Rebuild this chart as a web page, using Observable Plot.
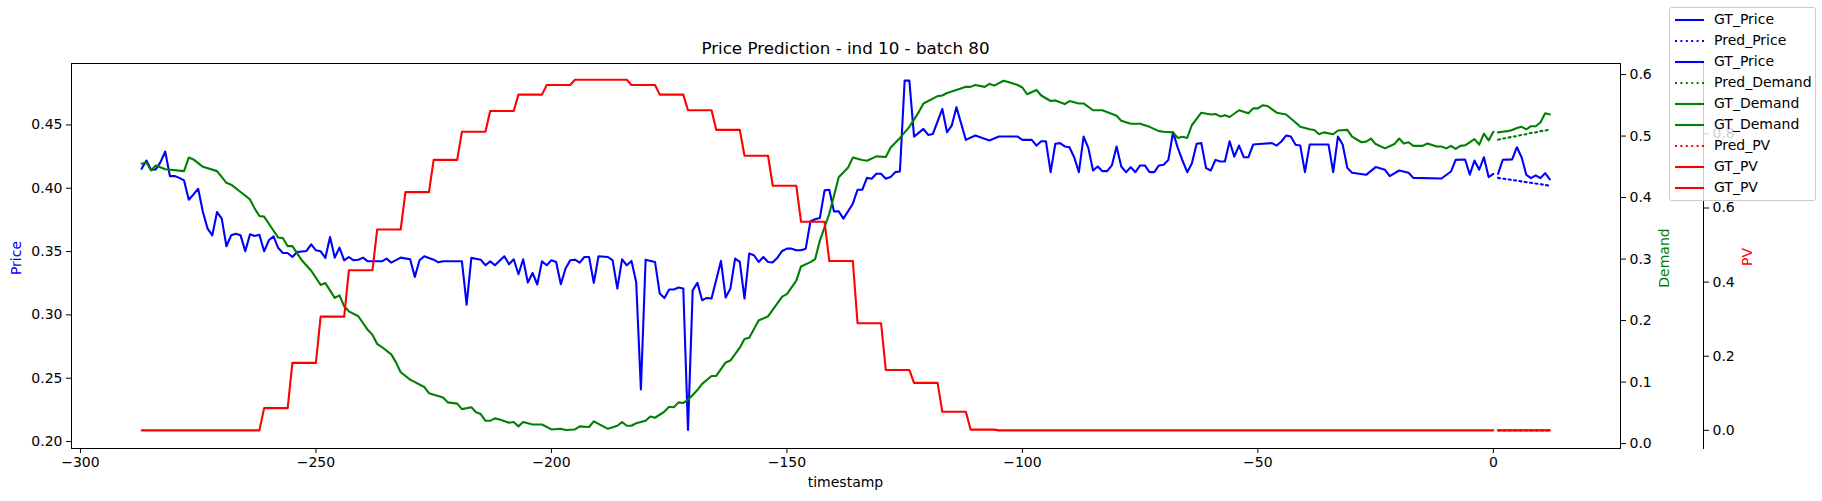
<!DOCTYPE html>
<html><head><meta charset="utf-8">
<script src="https://cdn.jsdelivr.net/npm/d3@7"></script>
<script src="https://cdn.jsdelivr.net/npm/@observablehq/plot@0.6"></script>
<style>
body{margin:0;background:#fff;font-family:"DejaVu Sans",sans-serif;}
#wrap{position:relative;width:1822px;height:501px;}
#wrap svg{position:absolute;left:0;top:0;}
.lbl{position:absolute;font-size:14px;white-space:nowrap;transform:translate(-50%,-50%);}
.rot{transform:translate(-50%,-50%) rotate(-90deg);}
#legend{position:absolute;left:1669px;top:7px;width:145px;height:192px;background:rgba(255,255,255,0.8);border:1px solid #ccc;border-radius:3px;font-size:14px;}
#legend div{position:absolute;left:44px;}
#legend svg{position:absolute;left:4px;}
</style></head><body>
<div id="wrap"></div>
<script>
// ---- data ----
const priceHistT=[-287,-286,-285,-284,-283,-282,-281,-280,-279,-278,-277,-276,-275,-274,-273,-272,-271,-270,-269,-268,-267,-266,-265,-264,-263,-262,-261,-260,-259,-258,-257,-256,-255,-254,-252,-251,-250,-249,-248,-247,-246,-245,-244,-243,-242,-241,-240,-239,-236,-235,-234,-232,-230,-229,-228,-227,-225,-224,-223,-219,-218,-217,-215,-214,-213,
-212,-210,-209,-208,-207,-206,-205,-204,-203,-202,-201,-200,-199,-198,-197,-196,-195,-194,-193,-192,-191,-190,-188,-187,-186,-185,-184,-183,-182,-181,-180,-178,-177,-176,-175,-174,-173,-172,-171,-170,-169,-168,-167,-166,-164,-163,-162,-161,-160,-159,-158,-157,-156,-155,-154,-153,-152,-151,-150,-149,-148,-147,-146,-145,-144,-143,-142,-141,
-140,-139,-138,-136,-135,-134,-133,-132,-131,-130,-129,-128,-127,-126,-125,-124,-123,-121,-120,-119,-117,-116,-115,-114,-112,-110,-107,-105,-101,-100,-98,-97,-96,-95,-94,-93,-92,-91,-90,-89,-88,-87,-86,-85,-84,-83,-82,-81,-80,-79,-78,-77,-76,-75,-74,-73,-72,-71,-70,-69,-68,
-67,-66,-65,-64,-63,-62,-61,-60,-59,-58,-57,-56,-55,-54,-53,-52,-51,-49,-47,-46,-45,-44,-43,-42,-41,-40,-39,-37,-35,-34,-33,-32,-31,-30,-27,-25,-23,-22,-20,-18,-17,-11,-9,-8,-6,-5,-4,-3,-2,-1,0];
const priceHistV=[.4154,.4219,.4146,.4149,.4206,.4290,.4096,.4096,.4082,.4062,.3909,.3951,.3996,.3812,.3681,.3628,.3812,.3760,.3542,.3628,.3641,.3628,.3502,.3636,.3623,.3633,.3502,.3589,.3620,.3528,.3489,.3489,.3457,.3496,.3505,.3557,.3510,.3502,.3450,.3615,.3452,.3531,.3431,.3457,.3431,.3436,.3452,.3423,.3423,.3444,.3413,.3452,.3439,.3300,.3431,.3463,.3436,.3415,.3423,.3423,.3081,.3450,.3436,.3392,.3423,
.3392,.3463,.3400,.3439,.3321,.3439,.3255,.3331,.3240,.3423,.3392,.3431,.3418,.3242,.3366,.3431,.3436,.3413,.3457,.3457,.3253,.3463,.3457,.3431,.3208,.3439,.3392,.3426,.3260,.2412,.3436,.3418,.3169,.3134,.3200,.3200,.3216,.3208,.2092,.3195,.3253,.3116,.3134,.3129,.3426,.3137,.3208,.3444,.3418,.3129,.3484,.3471,.3418,.3457,.3418,.3415,.3452,.3505,.3523,.3523,.3510,.3510,.3523,.3739,.3755,.3765,.3983,.3988,
.3817,.3817,.3760,.3878,.3988,.3988,.4082,.4075,.4114,.4114,.4075,.4088,.4127,.4132,.4850,.4850,.4408,.4469,.4421,.4429,.4626,.4442,.4495,.4640,.4382,.4416,.4377,.4408,.4408,.4382,.4382,.4337,.4371,.4371,.4127,.4351,.4356,.4330,.4324,.4245,.4127,.4408,.4319,.4140,.4172,.4135,.4135,.4180,.4330,.4172,.4127,.4167,.4127,.4180,.4180,.4127,.4127,.4180,.4185,.4224,.4442,
.4319,.4219,.4127,.4198,.4351,.4356,.4159,.4140,.4224,.4211,.4211,.4371,.4250,.4337,.4245,.4245,.4345,.4351,.4356,.4337,.4369,.4416,.4408,.4343,.4337,.4127,.4345,.4345,.4345,.4127,.4408,.4345,.4161,.4122,.4106,.4167,.4146,.4096,.4140,.4122,.4082,.4077,.4132,.4224,.4227,.4108,.4219,.4146,.4245,.4088,.4114];
const futureT=[1,2,3,4,5,6,7,8,9,10,11,12];
const priceFutV=[.4114,.4225,.4226,.4227,.4324,.4245,.4106,.4080,.4101,.4080,.4119,.4070];
const pricePredV=[.4082,.4076,.4071,.4065,.4060,.4054,.4048,.4043,.4037,.4032,.4026,.4020];
const demandHistT=[-287,-286,-285,-284,-282,-278,-277,-276,-274,-271,-269,-268,-266,-264,-263,-262,-261,-259,-258,-257,-256,-255,-253,-251,-249,-248,-246,-245,-244,-243,-241,-239,-238,-237,-236,-234,-233,-232,-230,-227,-226,-223,-222,-220,-219,-217,-216,-215,-214,
-213,-212,-211,-209,-208,-207,-206,-204,-202,-200,-198,-197,-195,-194,-192,-191,-189,-188,-186,-185,-184,-183,-182,-180,-179,-178,-176,-175,-174,-173,-172,-171,-169,-168,-166,-165,-163,-162,-160,-159,-158,-156,-154,-151,-150,-148,-147,-145,-144,-143,-141,
-140,-139,-137,-136,-134,-133,-131,-129,-128,-126,-124,-122,-121,-118,-117,-116,-114,-112,-111,-110,-108,-107,-106,-104,-103,-101,-100,-99,-97,-96,-94,-93,-91,-90,-88,-87,-85,-83,-80,-79,-77,-75,-73,-71,-70,-68,-67,
-66,-65,-64,-62,-60,-59,-58,-57,-56,-54,-52,-51,-50,-49,-48,-46,-44,-42,-41,-39,-38,-37,-36,-34,-33,-31,-30,-28,-27,-26,-25,-23,-21,-20,-19,-18,-17,-15,-14,-12,-11,-10,-9,-8,-7,-6,-4,-3,-2,-1,0];
const demandHistV=[.455,.457,.444,.452,.446,.443,.465,.462,.450,.443,.424,.421,.409,.397,.382,.370,.369,.346,.335,.334,.321,.321,.298,.281,.258,.261,.237,.241,.223,.215,.207,.185,.177,.162,.157,.145,.132,.116,.104,.092,.082,.075,.067,.065,.056,.059,.051,.048,.037,
.037,.041,.039,.034,.035,.028,.035,.031,.031,.023,.024,.022,.023,.028,.027,.036,.028,.024,.029,.035,.029,.029,.033,.037,.044,.042,.052,.060,.059,.067,.066,.071,.087,.097,.110,.110,.132,.135,.156,.170,.172,.200,.207,.239,.243,.265,.288,.295,.300,.330,.374,
.403,.433,.449,.465,.461,.460,.467,.466,.481,.497,.515,.539,.553,.565,.566,.570,.575,.580,.580,.583,.580,.585,.582,.590,.588,.583,.579,.568,.575,.566,.557,.558,.552,.557,.553,.553,.542,.542,.533,.525,.520,.520,.515,.508,.507,.506,.497,
.499,.497,.518,.538,.535,.536,.532,.534,.531,.542,.537,.545,.545,.550,.549,.538,.535,.522,.515,.511,.510,.503,.506,.503,.509,.510,.499,.490,.491,.496,.487,.480,.487,.496,.488,.490,.484,.484,.488,.483,.483,.480,.484,.479,.484,.485,.495,.486,.504,.493,.507];
const demandFutV=[.506,.507,.508,.510,.513,.515,.511,.516,.516,.522,.537,.535];
const demandPredV=[.494,.496,.497,.499,.500,.502,.503,.505,.506,.508,.509,.511];
const pvStepT=[-287,-261,-255,-249,-243,-237,-231,-225,-219,-213,-207,-201,-195,-189,-183,-177,-171,-165,-159,-153,-147,-141,-135,-129,-123,-117,-111,-105];
const pvStepV=[0,.060,.182,.307,.432,.542,.643,.730,.806,.862,.906,.932,.946,.946,.932,.906,.864,.811,.741,.660,.563,.457,.289,.163,.128,.050,.002,0];
const pvFutV=[0,0,0,0,0,0,0,0,0,0,0,0];
const pvPredV=[0,0,0,0,0,0,0,0,0,0,0,0];
const priceTicks=[0.20,0.25,0.30,0.35,0.40,0.45];
const demandTicks=[0,0.1,0.2,0.3,0.4,0.5,0.6];
const pvTicks=[0,0.2,0.4,0.6,0.8];
const xTicks=[-300,-250,-200,-150,-100,-50,0];

// build tables
const zip=(T,V)=>T.map((t,i)=>({t,v:V[i]}));
const priceHist=zip(priceHistT,priceHistV), priceFut=zip(futureT,priceFutV), pricePred=zip(futureT,pricePredV);
const demandHist=zip(demandHistT,demandHistV), demandFut=zip(futureT,demandFutV), demandPred=zip(futureT,demandPredV);
const pvHist=[];
for(let t=-287;t<=0;t++){let k=0;for(let j=0;j<pvStepT.length;j++) if(pvStepT[j]<=t) k=j; pvHist.push({t,v:pvStepV[k]});}
const pvFut=zip(futureT,pvFutV), pvPred=zip(futureT,pvPredV);

const W=1822,H=501,M={marginLeft:71,marginRight:202,marginTop:63,marginBottom:53};
const xs={domain:[-301.9,27.0]};
const font={fontFamily:"DejaVu Sans",fontSize:14};
const lw=2.1, dash="2,3.4";
const common={width:W,height:H,...M,style:{...font,background:"transparent",overflow:"visible"}};

const p1=Plot.plot({...common,x:{...xs},y:{domain:[0.1945,0.4985]},marks:[
  Plot.line(priceHist,{x:"t",y:"v",stroke:"blue",strokeWidth:lw}),
  Plot.line(priceFut,{x:"t",y:"v",stroke:"blue",strokeWidth:lw}),
  Plot.line(pricePred,{x:"t",y:"v",stroke:"blue",strokeWidth:lw,strokeDasharray:dash}),
  Plot.frame({stroke:"black",strokeWidth:1}),
  Plot.axisX({ticks:xTicks,tickFormat:d=>d<0?"\u2212"+(-d):d,tickSize:5,tickPadding:4,label:null,fontSize:14}),
  Plot.axisY({anchor:"left",ticks:priceTicks,tickFormat:d3.format(".2f"),tickSize:5,tickPadding:4,label:null,fontSize:14})
]});
const p2=Plot.plot({...common,x:{...xs,axis:null},y:{domain:[-0.008,0.618]},marks:[
  Plot.line(demandHist,{x:"t",y:"v",stroke:"green",strokeWidth:lw}),
  Plot.line(demandFut,{x:"t",y:"v",stroke:"green",strokeWidth:lw}),
  Plot.line(demandPred,{x:"t",y:"v",stroke:"green",strokeWidth:lw,strokeDasharray:dash}),
  Plot.axisY({anchor:"right",ticks:demandTicks,tickFormat:d3.format(".1f"),tickSize:5,tickPadding:4,label:null,fontSize:14})
]});
const p3=Plot.plot({...common,marginRight:119,x:{domain:[-301.9,27.0+83/4.71],axis:null},y:{domain:[-0.049,0.99]},marks:[
  Plot.line(pvHist,{x:"t",y:"v",stroke:"red",strokeWidth:lw}),
  Plot.line(pvFut,{x:"t",y:"v",stroke:"red",strokeWidth:lw}),
  Plot.line(pvPred,{x:"t",y:"v",stroke:"red",strokeWidth:lw,strokeDasharray:dash}),
  Plot.frame({anchor:"right",stroke:"black"}),
  Plot.axisY({anchor:"right",ticks:pvTicks,tickFormat:d3.format(".1f"),tickSize:5,tickPadding:4,label:null,fontSize:14})
]});
const wrap=document.getElementById("wrap");
wrap.append(p1,p2,p3);
const add=(txt,x,y,cls,color,size)=>{const d=document.createElement("div");d.className="lbl "+(cls||"");d.textContent=txt;d.style.left=x+"px";d.style.top=y+"px";if(color)d.style.color=color;if(size)d.style.fontSize=size+"px";wrap.append(d);};
add("Price Prediction - ind 10 - batch 80",845.5,48,"","#000",16.7);
add("timestamp",845.5,482);
add("Price",16,258,"rot","blue");
add("Demand",1664,258,"rot","green");
add("PV",1747,257,"rot","red");
// legend
const legNames=["GT_Price","Pred_Price","GT_Price","Pred_Demand","GT_Demand","GT_Demand","Pred_PV","GT_PV","GT_PV"];
const legColors=["blue","blue","blue","green","green","green","red","red","red"];
const legDash=[false,true,false,true,false,false,true,false,false];
const leg=document.createElement("div");leg.id="legend";
legNames.forEach((n,i)=>{const y=12+i*21;
  const s=document.createElementNS("http://www.w3.org/2000/svg","svg");s.setAttribute("width",32);s.setAttribute("height",6);s.style.top=(y-3)+"px";
  s.innerHTML=`<line x1="1" y1="3" x2="30" y2="3" stroke="${legColors[i]}" stroke-width="2.1" ${legDash[i]?'stroke-dasharray="2,3.4"':''}/>`;
  leg.append(s);const d=document.createElement("div");d.textContent=n;d.style.top=(y-9)+"px";leg.append(d);});
wrap.append(leg);
</script></body></html>
